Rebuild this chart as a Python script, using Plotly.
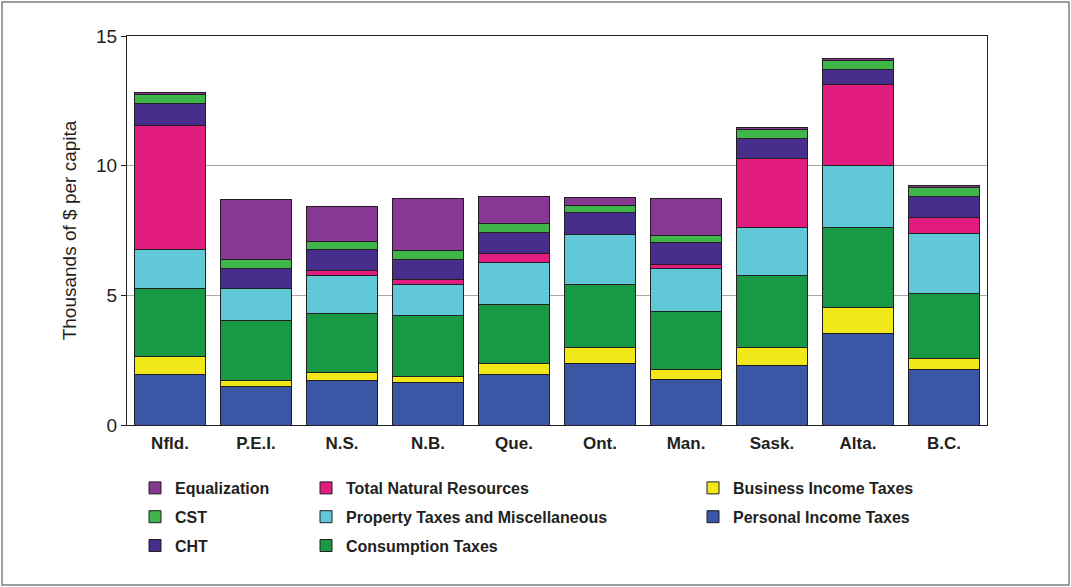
import plotly.graph_objects as go

provinces = ["Nfld.", "P.E.I.", "N.S.", "N.B.", "Que.", "Ont.", "Man.", "Sask.", "Alta.", "B.C."]

personal_income = [1.93, 1.50, 1.72, 1.64, 1.93, 2.36, 1.74, 2.28, 3.52, 2.15]
business_income = [0.71, 0.22, 0.29, 0.23, 0.43, 0.62, 0.41, 0.71, 1.00, 0.40]
consumption     = [2.63, 2.31, 2.29, 2.35, 2.29, 2.45, 2.23, 2.79, 3.11, 2.53]
property_misc   = [1.48, 1.24, 1.45, 1.18, 1.60, 1.93, 1.67, 1.85, 2.39, 2.29]
natural_res     = [4.79, 0.00, 0.22, 0.22, 0.35, 0.00, 0.13, 2.66, 3.12, 0.62]
cht             = [0.85, 0.78, 0.78, 0.78, 0.84, 0.84, 0.84, 0.77, 0.57, 0.83]
cst             = [0.35, 0.34, 0.34, 0.34, 0.33, 0.28, 0.27, 0.35, 0.33, 0.35]
equalization    = [0.07, 2.30, 1.32, 2.00, 1.05, 0.28, 1.44, 0.07, 0.08, 0.07]

# (name, values, colour, legend column, rank within column)
series = [
    ("Personal Income Taxes", personal_income, "#3a56a4", "legend3", 2),
    ("Business Income Taxes", business_income, "#f2e819", "legend3", 1),
    ("Consumption Taxes", consumption, "#189946", "legend2", 3),
    ("Property Taxes and Miscellaneous", property_misc, "#60c8d6", "legend2", 2),
    ("Total Natural Resources", natural_res, "#e31c80", "legend2", 1),
    ("CHT", cht, "#472d8c", "legend", 3),
    ("CST", cst, "#40b64a", "legend", 2),
    ("Equalization", equalization, "#873893", "legend", 1),
]

fig = go.Figure()
for name, vals, color, leg, rank in series:
    fig.add_trace(go.Bar(
        x=provinces, y=vals, name=name, legend=leg, legendgroup=name, legendrank=rank,
        marker=dict(color=color, line=dict(color="#231f20", width=1)),
    ))

W, H = 1071, 587
L, R, T, B = 127, 84, 36, 162
pw, ph = W - L - R, H - T - B

def px(x):
    return (x - L) / pw

def py(y):
    return (H - B - y) / ph

legfont = dict(family="Liberation Sans Narrow, Arial Narrow, Liberation Sans, Arial, sans-serif",
               size=16, color="#231f20", weight="bold")
legcommon = dict(orientation="v", font=legfont, bgcolor="rgba(0,0,0,0)",
                 tracegroupgap=5, traceorder="grouped", yanchor="top", xanchor="left",
                 itemclick=False, itemdoubleclick=False)

fig.update_layout(
    width=W, height=H,
    margin=dict(l=L, r=R, t=T, b=B),
    barmode="stack",
    bargap=0.17,
    plot_bgcolor="white",
    paper_bgcolor="white",
    font=dict(family="Liberation Sans, Arial, sans-serif", color="#231f20"),
    legend=dict(x=px(135), y=py(471), **legcommon),
    legend2=dict(x=px(306), y=py(471), **legcommon),
    legend3=dict(x=px(693), y=py(471), **legcommon),
    xaxis=dict(
        showline=True, linecolor="#231f20", linewidth=1, mirror=True,
        ticks="", showgrid=False, ticklabelstandoff=3,
        tickfont=dict(family="Liberation Sans Narrow, Arial Narrow, Liberation Sans, sans-serif", size=17, color="#231f20", weight="bold"),
    ),
    yaxis=dict(
        range=[0, 15], tickvals=[0, 5, 10, 15],
        showline=True, linecolor="#231f20", linewidth=1, mirror=True,
        ticks="outside", ticklen=5, tickcolor="#231f20",
        showgrid=True, gridcolor="#a8a8a8", gridwidth=1,
        tickfont=dict(size=19, color="#231f20"),
        title=dict(text="Thousands of $ per capita", font=dict(size=19, color="#231f20"), standoff=14),
        zeroline=False,
    ),
    shapes=[dict(type="rect", xref="paper", yref="paper",
                 x0=px(2), x1=px(1069), y0=py(585), y1=py(2),
                 line=dict(color="#808080", width=1.5), fillcolor="rgba(0,0,0,0)", layer="below")],
)

fig.write_html("out.html", config={"displayModeBar": False},
               post_script="document.body.style.margin='0';")
